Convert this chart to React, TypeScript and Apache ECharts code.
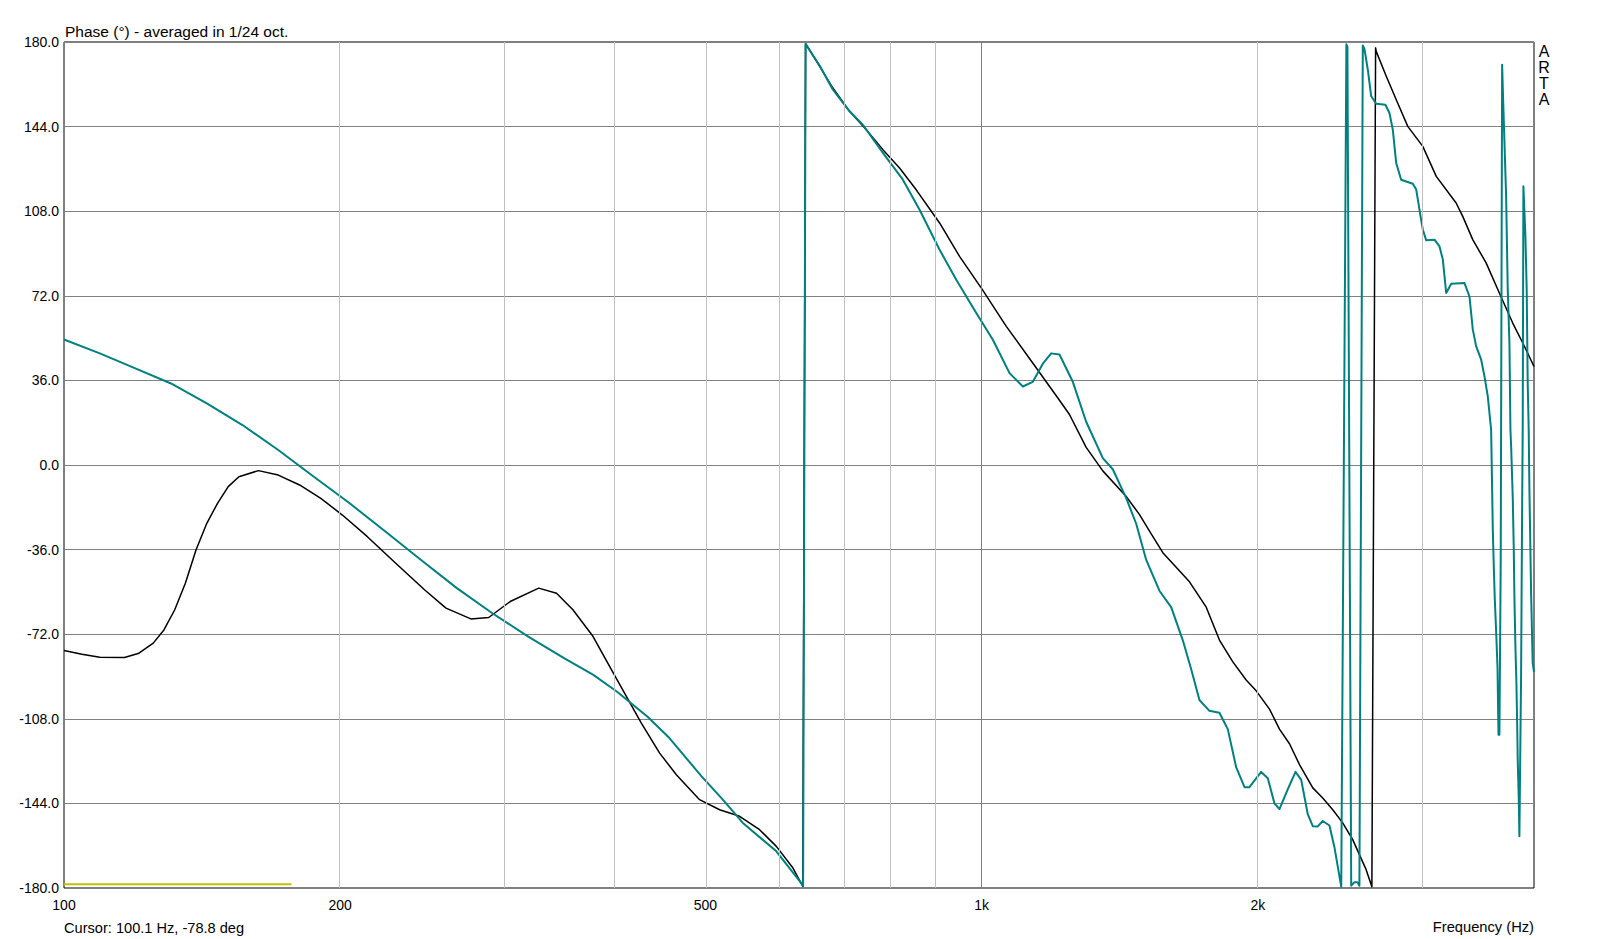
import React, { useEffect, useRef } from "react";
import * as echarts from "echarts";

// ---------- data (frequency in Hz, phase in degrees) ----------
const xTickFreqs = [100, 200, 500, 1000, 2000];
const xTickLabels = ["100", "200", "500", "1k", "2k"];
const minorGridFreqs = [200, 300, 400, 500, 600, 700, 800, 900, 2000, 3000];
const majorGridFreqs = [1000];

const freqMin = 100;
const freqMax = 4000;
const phaseMin = -180;
const phaseMax = 180;
const phaseStep = 36;

const blackCurve: [number, number][] = [
  [100, -78.9], [104.6, -80.5], [109.4, -81.8], [116.4, -81.9], [120.7, -80.1],
  [125.1, -75.8], [128.5, -70.2], [132, -61.7], [135.6, -50.3], [139.3, -36.1],
  [143.1, -24.8], [147, -16.3], [151, -9.2], [155.1, -5], [162.9, -2.4],
  [171.2, -4.3], [180.6, -8.5], [190.5, -14.2], [201.1, -21.3], [214.1, -30.5],
  [229.9, -41.8], [247.1, -53.1], [260.8, -60.9], [277.6, -65.5], [290.3, -64.9],
  [306.4, -58.1], [329.1, -52.4], [344.2, -54.6], [358.6, -61.6], [377.1, -72.9],
  [393.2, -85.7], [410.1, -98.5], [425.8, -109.8], [445.8, -122.6], [464.9, -131.8],
  [492.8, -142.4], [518.2, -146.7], [544.9, -149.5], [572.9, -155.2], [597.5, -162.3],
  [623, -171.5], [638.5, -179.3], [643, 179.3], [666.1, 169.6], [688.6, 160.4],
  [718.1, 150.5], [748.8, 142.7], [780.7, 134.2], [814, 126.4], [848.8, 117.1],
  [900, 103], [946.2, 88.8], [1002, 74.6], [1064, 59], [1137, 43.4],
  [1211, 28.5], [1246.8, 21.5], [1300.2, 7.5], [1355.6, -2.5], [1437.6, -13.4],
  [1486.4, -21.1], [1524.2, -28.1], [1576, -37.3], [1685, -49.7], [1757.3, -60.5],
  [1816.5, -74.5], [1878.6, -83.8], [1942.5, -91.5], [1992, -96.1], [2059.6, -103.9],
  [2111.9, -112.4], [2165.7, -118.6], [2220.7, -127.5], [2296, -137.4], [2354, -141.7],
  [2414, -146.7], [2475, -152.3], [2538, -159.4], [2581, -165.8], [2625, -172.2],
  [2663, -179.5], [2688, 177.5], [2692, 176], [2761, 165.4], [2831, 155.4],
  [2914, 144.1], [3026, 135.6], [3130, 122.8], [3290, 111.5], [3345, 105.8],
  [3430, 95.9], [3547, 86], [3667, 73.2], [3792, 60.4], [3889, 51.9], [4000, 41.9],
];

const tealCurve: [number, number][] = [
  [100, 53.4], [109.4, 47.5], [119.6, 41.1], [130.8, 34.7], [143.1, 26.2],
  [156.5, 17], [171.2, 6.4], [187.2, -5], [204.8, -16.3], [224, -28.3],
  [245, -40.4], [268, -52.4], [293, -63.1], [320.6, -73], [350.7, -82.2],
  [377.1, -89.2], [400, -96.3], [432.2, -107], [456.9, -116.2], [495.3, -132.5],
  [522.4, -142.4], [549.4, -152.3], [597.5, -164.4], [637.9, -178.6], [639, -179.2],
  [643, 179.2], [666, 170], [688.6, 159.7], [718, 150.5], [742.3, 144.8],
  [780.7, 132.8], [820.8, 121.4], [855.9, 108.6], [900, 91.6], [938.5, 78.8],
  [986.8, 64.7], [1028.7, 53.3], [1072.7, 39.1], [1109.2, 33.4], [1137.3, 35.4],
  [1166.2, 43.1], [1190.9, 47.5], [1216, 47], [1257.3, 35.4], [1300.2, 18.4],
  [1355.6, 2.9], [1390, -1.8], [1437.6, -14.1], [1474.1, -25], [1511.6, -40.4],
  [1563, -53.6], [1609.3, -60.5], [1656.7, -74.5], [1692.2, -86.9], [1727.6, -100],
  [1771.5, -104.6], [1816.5, -105.4], [1855, -112.4], [1894.3, -128.6], [1934.4, -137.1],
  [1958.6, -137.1], [2017, -130.6], [2051, -133.3], [2085.8, -144.1], [2111.9, -146.4],
  [2156.6, -137.9], [2198.7, -130.6], [2230.3, -134], [2267.6, -148.7], [2296, -153.7],
  [2325, -153.8], [2354, -151.5], [2394, -153.4], [2424.4, -162.7], [2466, -179.5],
  [2498, 179], [2504.5, 178], [2528.4, -179], [2549, -177.5], [2568, -177.5],
  [2581, -179], [2603, 178.5], [2614, 177], [2636, 168.2], [2658.6, 156.9],
  [2692, 153.7], [2755, 153.3], [2783, 149.8], [2806.6, 142.7], [2830.6, 128.5],
  [2866, 121.4], [2951, 119.7], [2976.5, 117.2], [3001, 108.6], [3026, 100.2],
  [3052, 95.6], [3116, 95.9], [3155.6, 93], [3182, 87.4], [3209, 73.2],
  [3249.6, 77.1], [3359.8, 77.4], [3402, 71.7], [3430.6, 57.6], [3460, 50.5],
  [3503.5, 44.8], [3532.6, 37.7], [3562, 29.2], [3592, 15], [3601.7, -11.9],
  [3607, -27.5], [3616, -43.1], [3625.3, -57.3], [3638, -71.5], [3650, -86.4],
  [3659, -114.8], [3667.6, -114.8], [3679.6, -40], [3692.6, 170.3], [3704.7, 151.2],
  [3729.9, 114.3], [3744.9, 74.6], [3760.9, 51.9], [3770.3, 15], [3777, 7.9],
  [3792, -13.4], [3801.6, -34.6], [3808, -55.9], [3817.7, -77.2], [3827.3, -92.8],
  [3834, -108.4], [3839.8, -125.4], [3849.5, -141], [3856, -158], [3860, -158],
  [3872.6, -89.2], [3882.4, -19.7], [3888.2, 15], [3895, 118.6], [3914.7, 97.3],
  [3927.4, 74.6], [3937.3, 34.9], [3947.2, 15], [3954.2, -10.5], [3971, -54.5],
  [3987, -84.3], [4000, -88],
];

const yellowCurve: [number, number][] = [
  [100, -178.4],
  [177, -178.4],
];

const titleText = "Phase (°) - averaged in 1/24 oct.";
const cursorText = "Cursor: 100.1 Hz, -78.8 deg";
const xAxisName = "Frequency (Hz)";
const brandLetters = ["A", "R", "T", "A"];

// ---------- component ----------
const FONT = '"Liberation Sans", Arial, Helvetica, sans-serif';
const toLog = (d: [number, number][]) => d.map(([f, v]) => [Math.log10(f), v]);

export default function App() {
  const ref = useRef<HTMLDivElement>(null);

  useEffect(() => {
    document.body.style.margin = "0";
    if (!ref.current) return;
    const chart = echarts.init(ref.current, undefined, { renderer: "svg" });

    const tickLogs = xTickFreqs.map((f) => Math.log10(f));

    const gridLines = [
      ...minorGridFreqs.map((f) => ({
        xAxis: Math.log10(f),
        lineStyle: { color: "#c0c0c0", width: 1, type: "solid" },
      })),
      ...majorGridFreqs.map((f) => ({
        xAxis: Math.log10(f),
        lineStyle: { color: "#808080", width: 1, type: "solid" },
      })),
    ];

    const option: any = {
      animation: false,
      backgroundColor: "#ffffff",
      grid: {
        left: 64,
        top: 42,
        width: 1470,
        height: 846,
        show: true,
        borderColor: "#000000",
        borderWidth: 1,
        backgroundColor: "transparent",
        containLabel: false,
      },
      xAxis: {
        type: "value",
        min: Math.log10(freqMin),
        max: Math.log10(freqMax),
        axisLine: { show: false },
        axisTick: { show: false },
        splitLine: { show: false },
        axisLabel: {
          customValues: tickLogs,
          formatter: (v: number) => {
            let best = 0;
            let bd = Infinity;
            tickLogs.forEach((t, i) => {
              const d = Math.abs(t - v);
              if (d < bd) {
                bd = d;
                best = i;
              }
            });
            return xTickLabels[best];
          },
          color: "#000000",
          fontSize: 14,
          fontFamily: FONT,
          margin: 10,
        },
      },
      yAxis: {
        type: "value",
        min: phaseMin,
        max: phaseMax,
        interval: phaseStep,
        axisLine: { show: false },
        axisTick: { show: false },
        splitLine: { show: true, lineStyle: { color: "#808080", width: 1 } },
        axisLabel: {
          formatter: (v: number) => v.toFixed(1),
          color: "#000000",
          fontSize: 14,
          fontFamily: FONT,
          margin: 5,
        },
      },
      series: [
        {
          type: "line",
          name: "ref",
          data: toLog(yellowCurve),
          showSymbol: false,
          symbol: "none",
          lineStyle: { color: "#c0c000", width: 2 },
          z: 1,
          markLine: {
            silent: true,
            symbol: "none",
            label: { show: false },
            data: gridLines,
          },
        },
        {
          type: "line",
          name: "black",
          data: toLog(blackCurve),
          showSymbol: false,
          symbol: "none",
          lineStyle: { color: "#000000", width: 1.5, join: "round" },
          z: 3,
        },
        {
          type: "line",
          name: "teal",
          data: toLog(tealCurve),
          showSymbol: false,
          symbol: "none",
          lineStyle: { color: "#008080", width: 2, join: "round" },
          z: 4,
        },
      ],
      graphic: [
        {
          type: "text",
          x: 65,
          y: 31,
          style: {
            text: titleText,
            fill: "#000000",
            fontSize: 15.5,
            fontFamily: FONT,
            textAlign: "left",
            textVerticalAlign: "middle",
          },
        },
        {
          type: "text",
          x: 64,
          y: 928,
          style: {
            text: cursorText,
            fill: "#000000",
            fontSize: 14.6,
            fontFamily: FONT,
            textAlign: "left",
            textVerticalAlign: "middle",
          },
        },
        {
          type: "text",
          x: 1534,
          y: 927,
          style: {
            text: xAxisName,
            fill: "#000000",
            fontSize: 14.7,
            fontFamily: FONT,
            textAlign: "right",
            textVerticalAlign: "middle",
          },
        },
        ...brandLetters.map((ch, i) => ({
          type: "text",
          x: 1544,
          y: 51 + i * 16,
          style: {
            text: ch,
            fill: "#000000",
            fontSize: 16,
            fontFamily: FONT,
            textAlign: "center",
            textVerticalAlign: "middle",
          },
        })),
      ],
    };

    chart.setOption(option);
    return () => chart.dispose();
  }, []);

  return (
    <div
      ref={ref}
      style={{ position: "absolute", left: 0, top: 0, width: 1598, height: 939, background: "#fff" }}
    />
  );
}
